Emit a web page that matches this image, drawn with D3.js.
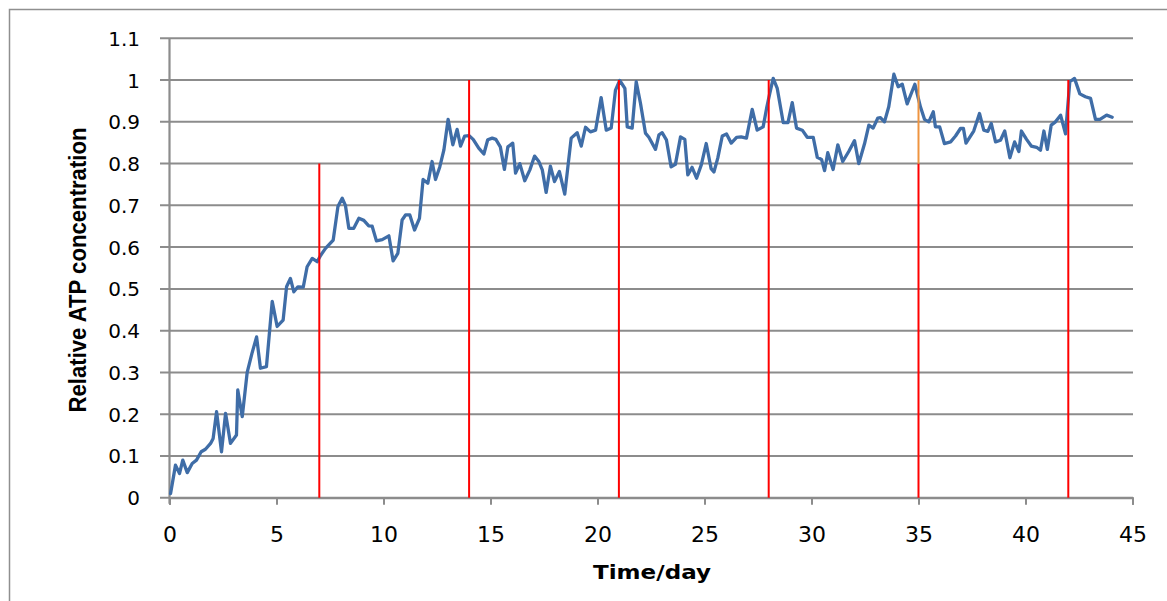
<!DOCTYPE html>
<html>
<head>
<meta charset="utf-8">
<script src="https://cdn.jsdelivr.net/npm/d3@7"></script>
<style>
  html, body { margin: 0; padding: 0; background: #fff; }
  svg { display: block; }
</style>
</head>
<body>
<svg id="chart" width="1167" height="601"></svg>
<script>
// ---- data ----
const days = [0.05,0.28,0.47,0.62,0.83,1.06,1.26,1.48,1.68,1.92,2.04,2.2,2.43,2.62,2.85,3.13,3.19,3.4,3.63,3.85,4.07,4.25,4.53,4.8,5.03,5.31,5.47,5.65,5.81,6.0,6.25,6.43,6.67,6.9,7.06,7.29,7.65,7.87,8.07,8.22,8.38,8.61,8.85,9.08,9.31,9.47,9.67,9.94,10.25,10.45,10.67,10.87,11.03,11.23,11.45,11.68,11.85,12.07,12.27,12.43,12.63,12.82,13.02,13.24,13.44,13.6,13.79,13.99,14.19,14.45,14.69,14.87,15.08,15.25,15.46,15.65,15.81,16.04,16.17,16.37,16.6,16.84,17.06,17.26,17.42,17.6,17.8,17.99,18.22,18.47,18.77,19.05,19.24,19.44,19.67,19.91,20.17,20.41,20.64,20.84,21.04,21.28,21.39,21.62,21.81,22.01,22.24,22.4,22.71,22.87,23.02,23.22,23.44,23.64,23.88,24.08,24.22,24.42,24.63,24.85,25.08,25.31,25.44,25.62,25.83,26.03,26.25,26.5,26.71,26.96,27.23,27.46,27.74,27.9,28.05,28.21,28.4,28.68,28.9,29.1,29.3,29.57,29.8,30.08,30.27,30.47,30.61,30.76,31.01,31.23,31.46,31.74,32.01,32.21,32.48,32.68,32.88,33.1,33.22,33.41,33.61,33.85,34.05,34.24,34.47,34.83,35.09,35.28,35.48,35.69,35.79,35.99,36.21,36.5,36.73,36.96,37.1,37.22,37.58,37.85,38.05,38.24,38.4,38.6,38.83,39.03,39.27,39.49,39.69,39.81,40.05,40.27,40.52,40.7,40.86,41.02,41.2,41.4,41.64,41.87,42.07,42.29,42.54,42.8,43.04,43.27,43.48,43.79,44.05];
const atp = [0.01,0.078,0.058,0.09,0.06,0.082,0.09,0.11,0.116,0.13,0.142,0.206,0.11,0.202,0.13,0.15,0.258,0.194,0.30,0.345,0.385,0.31,0.314,0.47,0.41,0.425,0.505,0.525,0.493,0.505,0.504,0.553,0.573,0.565,0.58,0.597,0.617,0.697,0.717,0.70,0.645,0.645,0.669,0.664,0.651,0.65,0.615,0.618,0.627,0.567,0.585,0.665,0.677,0.677,0.641,0.669,0.762,0.753,0.805,0.762,0.792,0.832,0.906,0.845,0.882,0.842,0.866,0.867,0.858,0.837,0.823,0.857,0.861,0.858,0.84,0.786,0.84,0.849,0.777,0.80,0.759,0.785,0.818,0.805,0.785,0.731,0.794,0.757,0.781,0.727,0.861,0.874,0.842,0.887,0.876,0.88,0.958,0.88,0.885,0.976,0.999,0.98,0.888,0.885,0.996,0.944,0.873,0.863,0.834,0.869,0.874,0.857,0.792,0.798,0.864,0.858,0.773,0.791,0.765,0.797,0.848,0.788,0.78,0.813,0.866,0.871,0.849,0.863,0.864,0.861,0.93,0.88,0.888,0.932,0.968,1.004,0.98,0.898,0.898,0.946,0.885,0.88,0.863,0.863,0.815,0.81,0.783,0.826,0.786,0.845,0.805,0.829,0.855,0.80,0.848,0.892,0.885,0.909,0.91,0.90,0.936,1.014,0.984,0.99,0.943,0.99,0.936,0.906,0.90,0.924,0.888,0.888,0.848,0.852,0.866,0.884,0.884,0.849,0.878,0.92,0.88,0.877,0.896,0.852,0.856,0.878,0.814,0.852,0.829,0.878,0.858,0.842,0.839,0.832,0.878,0.834,0.892,0.90,0.916,0.871,0.996,1.004,0.967,0.96,0.956,0.906,0.906,0.916,0.911];

// weekly marker lines (day, top value)
const markerDays = [7, 14, 21, 28, 35, 42];
const markerTops = [0.8, 1.0, 1.0, 1.0, 0.8, 1.0];
// orange segment on the day-35 marker
const orangeDay = 35;
const orangeRange = [0.8, 1.0];

const xTicks = [0, 5, 10, 15, 20, 25, 30, 35, 40, 45];
const yTicks = [0, 0.1, 0.2, 0.3, 0.4, 0.5, 0.6, 0.7, 0.8, 0.9, 1.0, 1.1];
const xTitle = "Time/day";
const yTitle = "Relative ATP concentration";

// ---- drawing ----
const svg = d3.select("#chart");
const x = d3.scaleLinear().domain([0, 45]).range([169.5, 1132.5]);
const y = d3.scaleLinear().domain([0, 1.1]).range([497.7, 38.3]);
const gridColor = "#8c8c8c";

// outer frame
svg.append("path")
  .attr("d", "M9.5,601 V9.5 H1167")
  .attr("fill", "none").attr("stroke", "#8f8f8f").attr("stroke-width", 1.5);

// horizontal gridlines with left ticks
const yAxis = d3.axisLeft(y).tickValues(yTicks).tickSize(-(1132.5 - 160)).tickFormat("");
const gy = svg.append("g").attr("transform", "translate(1132.5,0)");
// draw manually for control
svg.append("g").selectAll("line").data(yTicks).join("line")
  .attr("x1", 160).attr("x2", 1133)
  .attr("y1", d => y(d)).attr("y2", d => y(d))
  .attr("stroke", gridColor).attr("stroke-width", 2);

// y-axis line
svg.append("line")
  .attr("x1", x(0)).attr("x2", x(0))
  .attr("y1", y(1.1)).attr("y2", y(0) + 6)
  .attr("stroke", gridColor).attr("stroke-width", 2.2);

// x axis with ticks
const xAxis = d3.axisBottom(x).tickValues(xTicks).tickSize(7).tickFormat(d3.format("d"));
const gx = svg.append("g").attr("transform", `translate(0,${y(0)})`).call(xAxis);
gx.select(".domain").attr("stroke", gridColor).attr("stroke-width", 2);
gx.selectAll(".tick line").attr("stroke", gridColor).attr("stroke-width", 2);
gx.selectAll(".tick text")
  .attr("y", 0).attr("dy", 0)
  .attr("transform", "translate(0,44)")
  .attr("font-family", "'DejaVu Sans', Verdana, sans-serif")
  .attr("font-size", 22).attr("fill", "#000");

// y tick labels
svg.append("g").selectAll("text").data(yTicks).join("text")
  .attr("x", 140).attr("y", d => y(d) + 7.5)
  .attr("text-anchor", "end")
  .attr("font-family", "'DejaVu Sans', Verdana, sans-serif")
  .attr("font-size", 20).attr("fill", "#000")
  .text(d => d3.format("")(+d.toFixed(1)));

// data line
const pts = days.map((d, i) => [d, atp[i]]);
svg.append("path")
  .datum(pts)
  .attr("d", d3.line().x(d => x(d[0])).y(d => y(d[1])))
  .attr("fill", "none").attr("stroke", "#3f6da7")
  .attr("stroke-width", 3.3).attr("stroke-linejoin", "round").attr("stroke-linecap", "round");

// weekly marker lines
svg.append("g").selectAll("line").data(markerDays).join("line")
  .attr("x1", d => x(d)).attr("x2", d => x(d))
  .attr("y1", y(0)).attr("y2", (d, i) => y(markerTops[i]))
  .attr("stroke", "#ff0000").attr("stroke-width", 2);
svg.append("line")
  .attr("x1", x(orangeDay)).attr("x2", x(orangeDay))
  .attr("y1", y(orangeRange[0])).attr("y2", y(orangeRange[1]))
  .attr("stroke", "#ee9440").attr("stroke-width", 2);

// axis titles
svg.append("text")
  .attr("x", 652).attr("y", 579)
  .attr("text-anchor", "middle")
  .attr("font-family", "'DejaVu Sans', Verdana, sans-serif")
  .attr("font-weight", "bold").attr("font-size", 19)
  .attr("textLength", 118).attr("lengthAdjust", "spacingAndGlyphs")
  .text(xTitle);

svg.append("text")
  .attr("transform", "translate(86,270) rotate(-90)")
  .attr("text-anchor", "middle")
  .attr("font-family", "'Liberation Sans Narrow', 'Liberation Sans', Arial, sans-serif")
  .attr("font-weight", "bold").attr("font-size", 24)
  .attr("textLength", 285).attr("lengthAdjust", "spacingAndGlyphs")
  .text(yTitle);
</script>
</body>
</html>
